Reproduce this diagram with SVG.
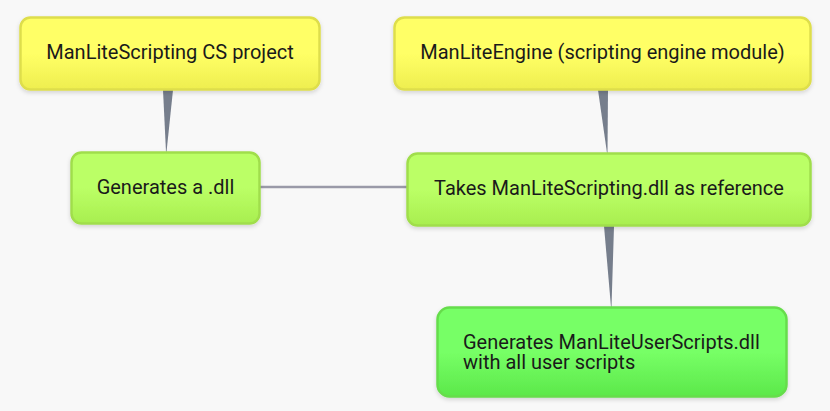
<svg xmlns="http://www.w3.org/2000/svg" width="830" height="411" viewBox="0 0 830 411">
<defs>
<linearGradient id="gy" x1="0" y1="0" x2="0" y2="1"><stop offset="0" stop-color="#ffff66"/><stop offset="0.5" stop-color="#ffff66"/><stop offset="1" stop-color="#eeee4f"/></linearGradient>
<linearGradient id="gl" x1="0" y1="0" x2="0" y2="1"><stop offset="0" stop-color="#bbff66"/><stop offset="0.5" stop-color="#bbff66"/><stop offset="1" stop-color="#a8ee4f"/></linearGradient>
<linearGradient id="gg" x1="0" y1="0" x2="0" y2="1"><stop offset="0" stop-color="#77ff66"/><stop offset="0.5" stop-color="#77ff66"/><stop offset="1" stop-color="#5ce84a"/></linearGradient>
<filter id="sh" x="-10%" y="-20%" width="120%" height="150%"><feDropShadow dx="0" dy="2" stdDeviation="2" flood-color="#000" flood-opacity="0.15"/></filter>
</defs>
<style>
text{font-family:Roboto,"Liberation Sans",sans-serif;font-size:20px;fill:#1a1a1a}
.n{stroke-width:2.5;filter:url(#sh)}
.y{fill:url(#gy);stroke:#dede4c}
.l{fill:url(#gl);stroke:#a0de4c}
.g{fill:url(#gg);stroke:#66dd4c}
.w{fill:#767e8c}
</style>
<rect width="830" height="411" fill="#f8f8f8"/>
<g id="connectors">
<path class="w" d="M163 90 L173 90 L166.5 152 L166 152 Z"/>
<path class="w" d="M598 90 L608 90 L607.5 153 L607 153 Z"/>
<path class="w" d="M604 226 L614 226 L611.5 307 L611 307 Z"/>
<line x1="260" y1="187" x2="407" y2="187" stroke="#9a9aa8" stroke-width="2.5"/>
</g>
<g id="n1"><rect class="n y" x="20.5" y="17.5" width="299" height="72" rx="10"/><text x="170" y="59" text-anchor="middle">ManLiteScripting CS project</text></g>
<g id="n2"><rect class="n l" x="71.5" y="152.5" width="188" height="71" rx="10"/><text x="165.5" y="194" text-anchor="middle">Generates a .dll</text></g>
<g id="n3"><rect class="n y" x="394.5" y="17.5" width="416" height="72" rx="10"/><text x="602.5" y="59" text-anchor="middle">ManLiteEngine (scripting engine module)</text></g>
<g id="n4"><rect class="n l" x="407.5" y="153.5" width="403" height="72" rx="10"/><text x="609" y="195" text-anchor="middle">Takes ManLiteScripting.dll as reference</text></g>
<g id="n5"><rect class="n g" x="437.5" y="307.5" width="349" height="89" rx="12"/><text x="463" y="349">Generates ManLiteUserScripts.dll</text><text x="463" y="369">with all user scripts</text></g>
</svg>
